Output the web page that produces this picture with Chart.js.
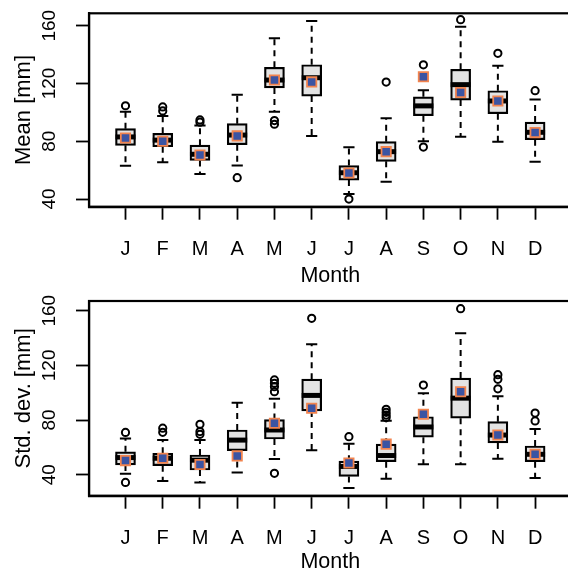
<!DOCTYPE html>
<html>
<head>
<meta charset="utf-8">
<script src="https://cdn.jsdelivr.net/npm/chart.js@4.4.1/dist/chart.umd.min.js"></script>
<style>
  html, body { margin: 0; padding: 0; background: #fff; width: 568px; height: 573px; overflow: hidden; }
  .panel { position: absolute; left: 0; }
</style>
</head>
<body>
<canvas id="mean-chart" class="panel" width="580" height="287" style="top:0"></canvas>
<canvas id="sd-chart" class="panel" width="580" height="286" style="top:287px"></canvas>
<script>
// categories and tick labels
const months = ['J', 'F', 'M', 'A', 'M', 'J', 'J', 'A', 'S', 'O', 'N', 'D'];
const yTicks = [40, 80, 120, 160];

// Mean [mm] boxplots
const meanLow = [63, 65.4, 57.3, 63.3, 100.5, 83.6, 43.5, 52, 80, 83.1, 79.7, 65.8];
const meanQ1 = [77.2, 76.2, 66.7, 77.6, 116.9, 111.3, 53.1, 66.1, 97.7, 108.5, 99.1, 81.1];
const meanMed = [83, 80.8, 71, 84.3, 122.4, 124, 58.2, 72.8, 104.5, 119.2, 107.9, 86.2];
const meanQ3 = [88.7, 85.5, 77.3, 92.2, 131.2, 133, 63.2, 79.7, 110.8, 129.8, 115, 93.3];
const meanHigh = [100.5, 97.5, 91, 112.2, 151.3, 163.3, 75.8, 95.9, 115.3, 159.3, 132.3, 108.9];
const meanOutliers = [[104.6], [103.8, 101], [94.8, 93.2], [54.8], [94.3, 91.8], [], [40], [121], [132.9, 76], [164.2], [140.9], [115]];
const meanObserved = [82.3, 80, 70.5, 83.7, 122.4, 121.1, 58, 72.8, 124.7, 113.8, 107.9, 86];

// Std. dev. [mm] boxplots
const sdLow = [40.6, 35.4, 34.2, 41.5, 51.5, 57.9, 30.3, 37, 47.7, 47.7, 51.7, 37.6];
const sdQ1 = [47.1, 46.6, 43.4, 57.6, 66.1, 86.6, 38.7, 49.5, 67.4, 81.3, 63.2, 49.5];
const sdMed = [52.5, 52, 50.6, 65.3, 72.7, 98, 46, 54, 74.9, 96, 69, 54.9];
const sdQ3 = [56.7, 55.6, 54.4, 72.7, 80.3, 109.9, 49.9, 62.3, 82.4, 110.7, 78.8, 61];
const sdHigh = [66.4, 65.4, 65.4, 92.7, 95.5, 135.4, 62.6, 79.5, 99.5, 143.5, 97.3, 73.4];
const sdOutliers = [[70.9, 34.3], [74, 71], [76.9, 71.5, 69.5], [], [109.3, 106.9, 104.4, 100.7, 41], [154.4], [67.8], [87.8, 85.6, 83.6, 81.8], [105.6], [161.5], [113.2, 109.8, 102.8], [85.1, 79.3]];
const sdObserved = [50.3, 52, 47.4, 53.7, 77.6, 88.6, 48.5, 62.3, 84.2, 100.7, 69, 54.9];

const fontFamily = '"Liberation Sans", Arial, Helvetica, sans-serif';
const boxFill = '#e3e3e3';
const squareFill = '#3b54a3';
const squareBorder = '#f2844f';

// floating bars for the boxes
function boxData(q1, q3) {
    return q1.map((v, i) => ({ x: i, y: [v, q3[i]] }));
}

// one point per month
function pointData(values) {
    return values.map((v, i) => ({ x: i, y: v }));
}

// flatten the outlier lists
function outlierData(lists) {
    const points = [];
    lists.forEach((list, i) => list.forEach(v => points.push({ x: i, y: v })));
    return points;
}

// whiskers, caps and medians drawn right after the boxes, plus frame and y labels
const boxplotExtras = {
    id: 'boxplotExtras',
    afterDatasetDraw(chart, args) {
        const ds = chart.data.datasets[args.index];
        if (!ds.stats) return;
        const ctx = chart.ctx;
        const xs = chart.scales.x;
        const ys = chart.scales.y;
        const st = ds.stats;
        ctx.save();
        ctx.strokeStyle = '#000';
        args.meta.data.forEach((bar, i) => {
            const cx = xs.getPixelForValue(i);
            const half = bar.width / 2;
            const capHalf = bar.width * 0.28;
            const yQ1 = ys.getPixelForValue(st.q1[i]);
            const yQ3 = ys.getPixelForValue(st.q3[i]);
            const yLow = ys.getPixelForValue(st.low[i]);
            const yHigh = ys.getPixelForValue(st.high[i]);

            ctx.lineWidth = 2;
            ctx.lineCap = 'butt';
            ctx.setLineDash([6, 5]);
            ctx.beginPath();
            ctx.moveTo(cx, yQ3);
            ctx.lineTo(cx, yHigh);
            ctx.moveTo(cx, yQ1);
            ctx.lineTo(cx, yLow);
            ctx.stroke();

            ctx.setLineDash([]);
            ctx.beginPath();
            ctx.moveTo(cx - capHalf, yHigh);
            ctx.lineTo(cx + capHalf, yHigh);
            ctx.moveTo(cx - capHalf, yLow);
            ctx.lineTo(cx + capHalf, yLow);
            ctx.stroke();

            const yMed = ys.getPixelForValue(st.med[i]);
            ctx.lineWidth = 5;
            ctx.beginPath();
            ctx.moveTo(cx - half, yMed);
            ctx.lineTo(cx + half, yMed);
            ctx.stroke();
        });
        ctx.restore();
    },
    afterDraw(chart) {
        const ctx = chart.ctx;
        const area = chart.chartArea;
        const ys = chart.scales.y;
        ctx.save();
        ctx.strokeStyle = '#000';
        ctx.lineWidth = 2.2;
        ctx.strokeRect(area.left, area.top, area.right - area.left, area.bottom - area.top);

        ctx.fillStyle = '#000';
        ctx.font = '19px ' + fontFamily;
        ctx.textAlign = 'center';
        ctx.textBaseline = 'middle';
        yTicks.forEach(v => {
            ctx.save();
            ctx.translate(50, ys.getPixelForValue(v));
            ctx.rotate(-Math.PI / 2);
            ctx.fillText(String(v), 0, 0);
            ctx.restore();
        });
        ctx.restore();
    }
};

// builds one panel
function createPanel(canvasId, yTitle, stats, outliers, observed, yMin, yMax, padTop, xHeight) {
    const ctx = document.getElementById(canvasId).getContext('2d');
    return new Chart(ctx, {
        type: 'bar',
        data: {
            datasets: [
                {
                    type: 'scatter',
                    data: pointData(observed),
                    pointStyle: 'rect',
                    pointRadius: 6.6,
                    backgroundColor: squareFill,
                    borderColor: squareBorder,
                    borderWidth: 1.8,
                    order: 0
                },
                {
                    type: 'scatter',
                    data: outlierData(outliers),
                    pointStyle: 'circle',
                    pointRadius: 3.6,
                    backgroundColor: 'rgba(0,0,0,0)',
                    borderColor: '#000',
                    borderWidth: 2,
                    order: 1
                },
                {
                    type: 'bar',
                    data: boxData(stats.q1, stats.q3),
                    backgroundColor: boxFill,
                    borderColor: '#000',
                    borderWidth: 2.2,
                    borderSkipped: false,
                    barThickness: 20,
                    order: 2,
                    stats: stats
                }
            ]
        },
        options: {
            responsive: false,
            devicePixelRatio: 1,
            animation: false,
            events: [],
            layout: { autoPadding: false, padding: { left: 0, top: padTop, right: 8.4, bottom: 0 } },
            plugins: { legend: { display: false }, tooltip: { enabled: false } },
            scales: {
                x: {
                    type: 'linear',
                    min: -0.98,
                    max: 11.98,
                    offset: false,
                    afterBuildTicks: s => { s.ticks = months.map((m, i) => ({ value: i })); },
                    afterFit: s => { s.height = xHeight; },
                    ticks: {
                        callback: v => months[v],
                        autoSkip: false,
                        maxRotation: 0,
                        padding: 18,
                        color: '#000',
                        font: { family: fontFamily, size: 20 }
                    },
                    grid: { offset: false, drawOnChartArea: false, tickLength: 13, tickWidth: 1.8, tickColor: '#000' },
                    border: { color: '#000', width: 2.2 },
                    title: {
                        display: true,
                        text: 'Month',
                        color: '#000',
                        font: { family: fontFamily, size: 21.5, lineHeight: 1 },
                        padding: { top: 0, bottom: 0 }
                    }
                },
                y: {
                    min: yMin,
                    max: yMax,
                    afterBuildTicks: s => { s.ticks = yTicks.map(v => ({ value: v })); },
                    afterFit: s => { s.width = 89; },
                    ticks: { display: false },
                    grid: { drawOnChartArea: false, tickLength: 13, tickWidth: 1.8, tickColor: '#000' },
                    border: { color: '#000', width: 2.2 },
                    title: {
                        display: true,
                        text: yTitle,
                        color: '#000',
                        font: { family: fontFamily, size: 22, lineHeight: 1 },
                        padding: { top: 13, bottom: 0 }
                    }
                }
            }
        },
        plugins: [boxplotExtras]
    });
}

createPanel('mean-chart', 'Mean [mm]',
    { low: meanLow, q1: meanQ1, med: meanMed, q3: meanQ3, high: meanHigh },
    meanOutliers, meanObserved, 34.7, 168.6, 13.3, 80.3);

createPanel('sd-chart', 'Std. dev. [mm]',
    { low: sdLow, q1: sdQ1, med: sdMed, q3: sdQ3, high: sdHigh },
    sdOutliers, sdObserved, 24.6, 167.1, 14, 77.3);
</script>
</body>
</html>
